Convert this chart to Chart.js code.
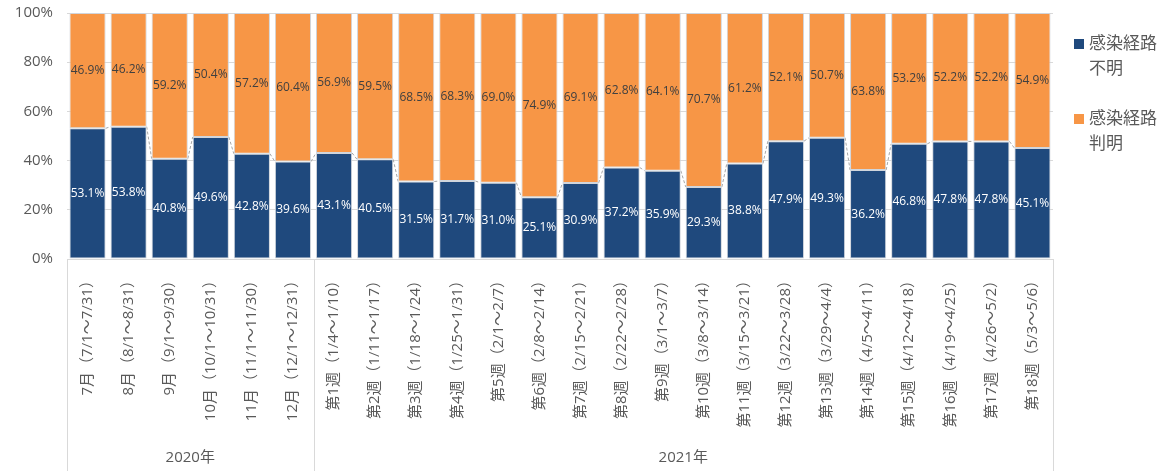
<!DOCTYPE html>
<html>
<head>
<meta charset="utf-8">
<script src="https://cdn.jsdelivr.net/npm/chart.js@4/dist/chart.umd.min.js"></script>
<style>
  html, body { margin: 0; padding: 0; background: #fff; }
  #wrap { width: 1173px; height: 471px; }
</style>
</head>
<body>
<div id="wrap"><canvas id="c"></canvas></div>
<script>
// periods on the x axis
var periods = ['7月（7/1～7/31）','8月（8/1～8/31）','9月（9/1～9/30）','10月（10/1～10/31）',
  '11月（11/1～11/30）','12月（12/1～12/31）','第1週（1/4～1/10）','第2週（1/11～1/17）',
  '第3週（1/18～1/24）','第4週（1/25～1/31）','第5週（2/1～2/7）','第6週（2/8～2/14）',
  '第7週（2/15～2/21）','第8週（2/22～2/28）','第9週（3/1～3/7）','第10週（3/8～3/14）',
  '第11週（3/15～3/21）','第12週（3/22～3/28）','第13週（3/29～4/4）','第14週（4/5～4/11）',
  '第15週（4/12～4/18）','第16週（4/19～4/25）','第17週（4/26～5/2）','第18週（5/3～5/6）'];

// year groups: name and how many periods belong to it
var years = ['2020年', '2021年'];
var yearCounts = [6, 18];

var seriesNames = ['感染経路不明', '感染経路判明'];
var unknownPct = [53.1,53.8,40.8,49.6,42.8,39.6,43.1,40.5,31.5,31.7,31.0,25.1,
  30.9,37.2,35.9,29.3,38.8,47.9,49.3,36.2,46.8,47.8,47.8,45.1];
var knownPct = [46.9,46.2,59.2,50.4,57.2,60.4,56.9,59.5,68.5,68.3,69.0,74.9,
  69.1,62.8,64.1,70.7,61.2,52.1,50.7,63.8,53.2,52.2,52.2,54.9];

var yTicks = [0, 20, 40, 60, 80, 100];

var FONT = '"Open Sans", "Noto Sans CJK JP", sans-serif';
var BLUE = '#1f497d';
var ORANGE = '#f79646';

// percent labels inside each segment
var valueLabels = {
  id: 'valueLabels',
  afterDatasetsDraw: function(chart){
    var ctx = chart.ctx;
    ctx.save();
    ctx.font = '12px ' + FONT;
    ctx.textAlign = 'center';
    ctx.textBaseline = 'middle';
    chart.data.datasets.forEach(function(ds, di){
      var meta = chart.getDatasetMeta(di);
      ctx.fillStyle = di === 0 ? '#ffffff' : '#404040';
      meta.data.forEach(function(bar, i){
        var mid = (bar.y + bar.base) / 2;
        ctx.fillText(ds.data[i].toFixed(1) + '%', bar.x, mid);
      });
    });
    ctx.restore();
  }
};

// dashed series lines joining the tops of the blue bars
var seriesLines = {
  id: 'seriesLines',
  beforeDatasetsDraw: function(chart){
    var ctx = chart.ctx;
    var bars = chart.getDatasetMeta(0).data;
    ctx.save();
    ctx.strokeStyle = '#a6a6a6';
    ctx.lineWidth = 1;
    ctx.setLineDash([3, 2]);
    for(var i = 0; i < bars.length - 1; i++){
      var a = bars[i], b = bars[i + 1];
      ctx.beginPath();
      ctx.moveTo(a.x + a.width / 2, a.y);
      ctx.lineTo(b.x - b.width / 2, b.y);
      ctx.stroke();
    }
    ctx.restore();
  }
};

// year group labels and separators below the axis, plus the legend
var extras = {
  id: 'extras',
  afterDraw: function(chart){
    var ctx = chart.ctx;
    var area = chart.chartArea;
    var step = (area.right - area.left) / periods.length;
    ctx.save();
    ctx.strokeStyle = '#d9d9d9';
    ctx.lineWidth = 1;
    var edges = [area.left];
    var acc = 0;
    yearCounts.forEach(function(n){ acc += n; edges.push(area.left + acc * step); });
    edges.forEach(function(ex){
      ctx.beginPath();
      ctx.moveTo(Math.round(ex) + 0.5, area.bottom);
      ctx.lineTo(Math.round(ex) + 0.5, chart.height);
      ctx.stroke();
    });
    ctx.fillStyle = '#595959';
    ctx.font = '15px ' + FONT;
    ctx.textAlign = 'center';
    ctx.textBaseline = 'middle';
    years.forEach(function(name, i){
      ctx.fillText(name, (edges[i] + edges[i + 1]) / 2, 458);
    });

    // legend
    var colors = [BLUE, ORANGE];
    ctx.textAlign = 'left';
    ctx.font = '17px ' + FONT;
    seriesNames.forEach(function(name, i){
      var top = 44 + i * 75;
      ctx.fillStyle = colors[i];
      ctx.fillRect(1074, top - 5, 10, 10);
      ctx.fillStyle = '#595959';
      ctx.fillText(name.slice(0, 4), 1089, top);
      ctx.fillText(name.slice(4), 1089, top + 25);
    });
    ctx.restore();
  }
};

new Chart(document.getElementById('c'), {
  type: 'bar',
  data: {
    labels: periods,
    datasets: [
      { label: seriesNames[0], data: unknownPct, backgroundColor: BLUE,
        borderColor: '#d0d5dc', borderWidth: 1, borderSkipped: false },
      { label: seriesNames[1], data: knownPct, backgroundColor: ORANGE,
        borderColor: '#d0d5dc', borderWidth: 1, borderSkipped: false }
    ]
  },
  options: {
    responsive: true,
    maintainAspectRatio: false,
    animation: false,
    layout: { padding: { top: 13, right: 120, left: 0, bottom: 0 } },
    datasets: { bar: { barPercentage: 0.88, categoryPercentage: 1.0 } },
    plugins: {
      legend: { display: false },
      tooltip: { enabled: false }
    },
    scales: {
      x: {
        stacked: true,
        grid: { display: false },
        border: { color: '#d9d9d9' },
        ticks: {
          minRotation: 90, maxRotation: 90, autoSkip: false,
          color: '#595959', font: { family: FONT, size: 15 }, padding: 6
        },
        afterFit: function(scale){
          scale.height = 212;
          scale.paddingLeft = 0; scale.paddingRight = 0;
        }
      },
      y: {
        stacked: true,
        min: 0, max: 100,
        afterBuildTicks: function(scale){
          scale.ticks = yTicks.map(function(v){ return { value: v }; });
        },
        grid: { color: '#d9d9d9', drawTicks: false },
        border: { display: false },
        ticks: {
          color: '#595959', font: { family: FONT, size: 15 }, padding: 14,
          callback: function(v){ return v + '%'; }
        },
        afterFit: function(scale){
          scale.width = 67;
          scale.paddingTop = 0; scale.paddingBottom = 0;
        }
      }
    }
  },
  plugins: [seriesLines, valueLabels, extras]
});
</script>
</body>
</html>
